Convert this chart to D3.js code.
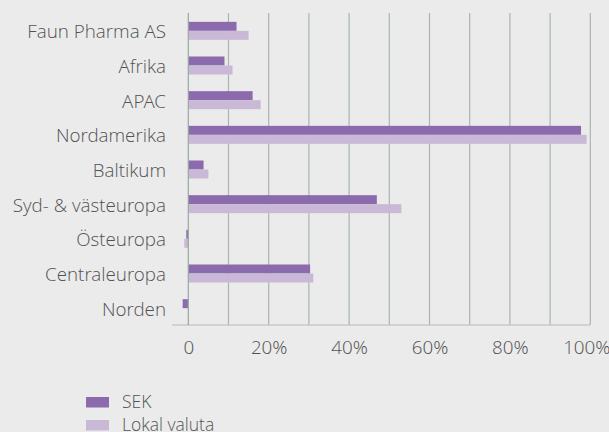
<!DOCTYPE html>
<html>
<head>
<meta charset="utf-8">
<script src="https://cdn.jsdelivr.net/npm/d3@7"></script>
<style>
  html, body { margin: 0; padding: 0; background: #ebebeb; }
  text { font-family: "Open Sans Light", "Open Sans", sans-serif; font-weight: 300; fill: #525252; }
</style>
</head>
<body>
<div id="chart"></div>
<script>
var categories = ["Faun Pharma AS", "Afrika", "APAC", "Nordamerika", "Baltikum",
                  "Syd- & västeuropa", "Östeuropa", "Centraleuropa", "Norden"];
var sekValues   = [0.12, 0.09, 0.16, 0.977, 0.038, 0.469, -0.005, 0.303, -0.014];
var lokalValues = [0.15, 0.11, 0.18, 0.991, 0.05, 0.53, -0.01, 0.311, 0];
var seriesNames = ["SEK", "Lokal valuta"];
var tickValues = [0, 0.2, 0.4, 0.6, 0.8, 1.0];

var widthx = 609, heighty = 432;
var colors = ["#8b6aae", "#c9b9d7"];
var fontSize = "18.8px";

var svg = d3.select("#chart").append("svg")
    .attr("width", widthx)
    .attr("height", heighty);

var x = d3.scaleLinear().domain([0, 1]).range([188.3, 590.3]);
var y = d3.scaleBand().domain(categories).range([13.5, 325.5]);
var sub = d3.scaleBand().domain(seriesNames).range([-9, 9]);

// gridlines every 10%
svg.append("g").selectAll("line")
    .data(d3.range(1, 11).map(function(d) { return d / 10; }))
    .enter().append("line")
    .attr("x1", function(d) { return x(d); })
    .attr("x2", function(d) { return x(d); })
    .attr("y1", 13)
    .attr("y2", 325)
    .attr("stroke", "#aab5b0")
    .attr("stroke-width", 1.2);

// bottom axis
var xAxis = svg.append("g")
    .attr("transform", "translate(0,325)")
    .call(d3.axisBottom(x).tickValues(tickValues).tickSize(0).tickPadding(16)
        .tickFormat(function(d) { return d === 0 ? "0" : Math.round(d * 100) + "%"; }));
xAxis.select(".domain").remove();
xAxis.selectAll("text").style("font-size", fontSize).attr("fill", null)
    .attr("dx", function(d) { return d === 1 ? -4 : 0; });

svg.append("line")
    .attr("x1", 172).attr("x2", 590.3)
    .attr("y1", 325).attr("y2", 325)
    .attr("stroke", "#b8bcba").attr("stroke-width", 1.2);

// bars
var rows = categories.map(function(c, i) { return {cat: c, vals: [sekValues[i], lokalValues[i]]}; });
var groups = svg.selectAll(".row").data(rows).enter().append("g")
    .attr("transform", function(d) { return "translate(0," + (y(d.cat) + y.bandwidth() / 2) + ")"; });

groups.selectAll("rect")
    .data(function(d) { return d.vals.map(function(v, j) { return {v: v, s: seriesNames[j], j: j}; }); })
    .enter().append("rect")
    .attr("x", function(d) { return x(Math.min(0, d.v)); })
    .attr("width", function(d) { return Math.abs(x(d.v) - x(0)); })
    .attr("y", function(d) { return sub(d.s); })
    .attr("height", sub.bandwidth())
    .attr("fill", function(d) { return colors[d.j]; });

// zero line
svg.append("line")
    .attr("x1", x(0)).attr("x2", x(0))
    .attr("y1", 13).attr("y2", 325)
    .attr("stroke", "#94a99d").attr("stroke-width", 1.2);

// category labels
svg.append("g").selectAll("text")
    .data(categories).enter().append("text")
    .attr("x", 166)
    .attr("y", function(d) { return y(d) + y.bandwidth() / 2 + 1; })
    .attr("dy", "0.35em")
    .attr("text-anchor", "end")
    .style("font-size", fontSize)
    .text(function(d) { return d; });

// legend
var legend = svg.append("g").selectAll("g")
    .data(seriesNames).enter().append("g")
    .attr("transform", function(d, i) { return "translate(86," + (397 + i * 23) + ")"; });
legend.append("rect")
    .attr("width", 23).attr("height", 10.5)
    .attr("fill", function(d, i) { return colors[i]; });
legend.append("text")
    .attr("x", 36).attr("y", 11)
    .style("font-size", "17.5px")
    .text(function(d) { return d; });
</script>
</body>
</html>
